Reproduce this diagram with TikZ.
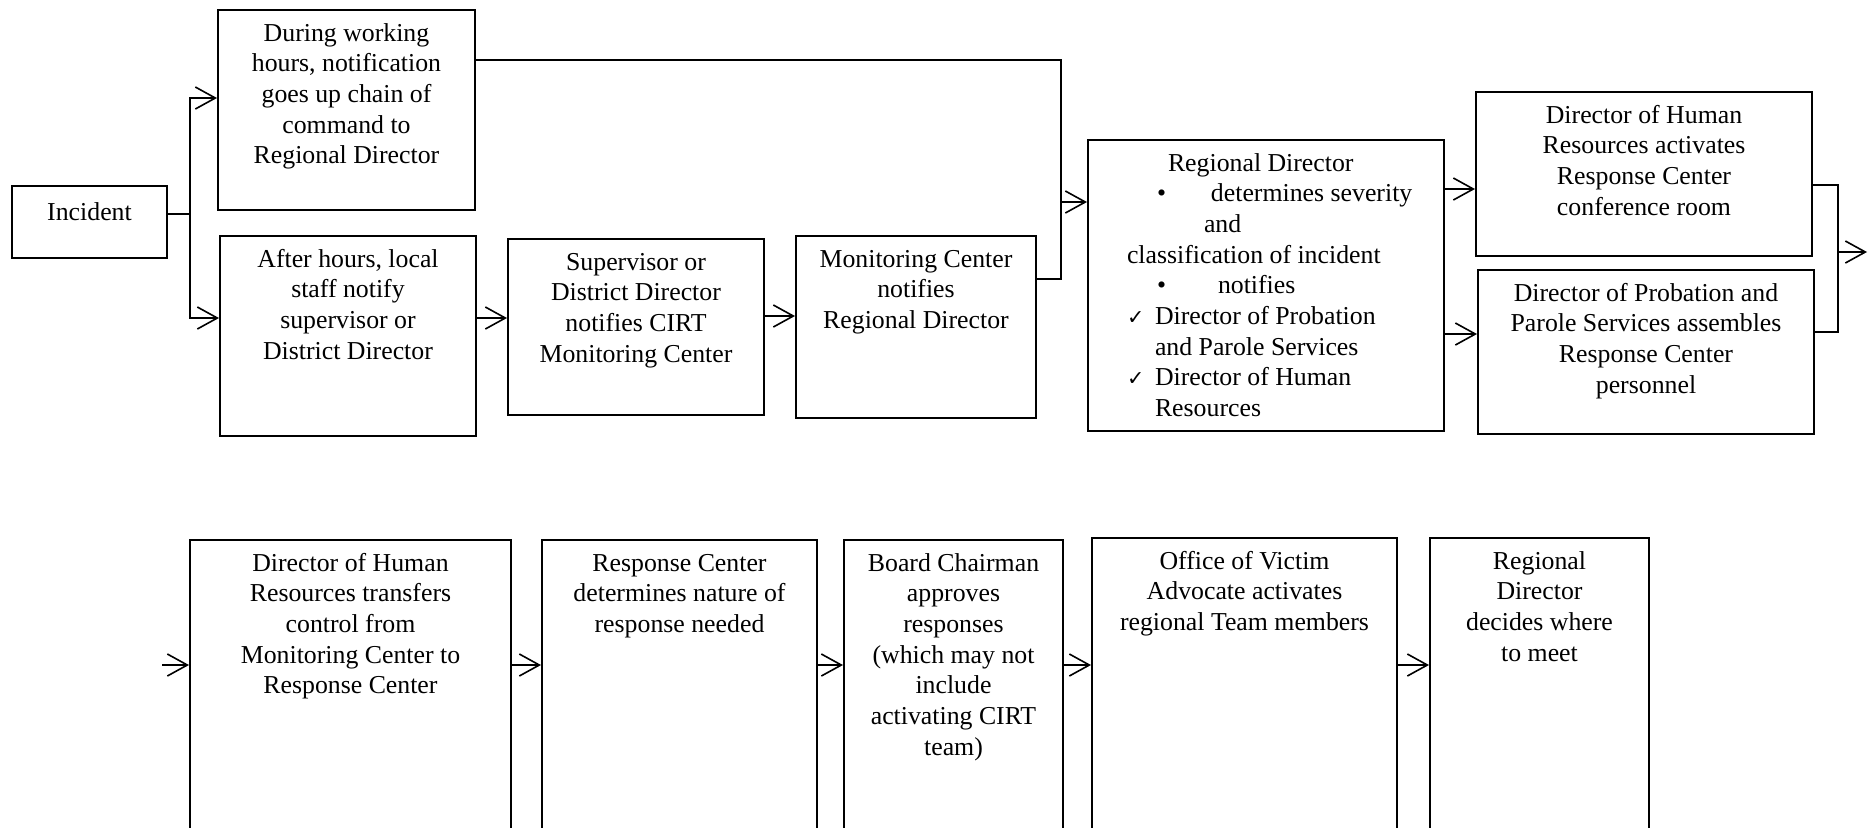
\documentclass[tikz,border=0pt]{standalone}
\usepackage{fontspec}
\setmainfont{Liberation Serif}
\newfontfamily\symfont[Scale=0.8]{DejaVu Sans}
\usetikzlibrary{arrows.meta}
\newcommand{\boxtxt}[3]{\parbox[c][#2][t]{#1}{\centering\rule{0pt}{15.5pt}#3}}

\begin{document}
\begin{tikzpicture}[x=0.5pt,y=-0.5pt,line width=0.8pt,
  every node/.style={font=\fontsize{12.9}{15.35}\selectfont},
  box/.style={draw,line width=1pt,inner sep=0pt,anchor=north west},
  arr/.style={-{Straight Barb[length=10pt,width=11pt]}}]
\useasboundingbox (0,0) rectangle (1873,827);
\node[box] (inc) at (11,185) {\boxtxt{77.5pt}{36pt}{\rule{0pt}{17pt}Incident}};
\node[box] (dur) at (217,9) {\boxtxt{128.5pt}{100pt}{During working\\hours, notification\\goes up chain of\\command to\\Regional Director}};
\node[box] (aft) at (219,235) {\boxtxt{128pt}{100pt}{After hours, local\\staff notify\\supervisor or\\District Director}};
\node[box] (sup) at (507,238) {\boxtxt{128pt}{88pt}{Supervisor or\\District Director\\notifies CIRT\\Monitoring Center}};
\node[box] (mon) at (795,235) {\boxtxt{120pt}{91pt}{Monitoring Center\\notifies\\Regional Director}};
\node[box] (rd) at (1087,139) {\boxtxt{178pt}{145.5pt}{\raggedright
  \hspace*{40pt}Regional Director\\
  \hspace*{34.5pt}\makebox[27pt][l]{\textbullet}determines severity\\
  \hspace*{58pt}and\\
  \hspace*{19.5pt}classification of incident\\
  \hspace*{34.5pt}\makebox[30.5pt][l]{\textbullet}notifies\\
  \hspace*{19.5pt}\makebox[14pt][l]{\symfont ✓}Director of Probation\\
  \hspace*{33.5pt}and Parole Services\\
  \hspace*{19.5pt}\makebox[14pt][l]{\symfont ✓}Director of Human\\
  \hspace*{33.5pt}Resources}};
\node[box] (hr) at (1475,91) {\boxtxt{168pt}{82pt}{Director of Human\\Resources activates\\Response Center\\conference room}};
\node[box] (prob) at (1477,269) {\boxtxt{168pt}{82pt}{Director of Probation and\\Parole Services assembles\\Response Center\\personnel}};
\node[box] (b1) at (189,539) {\boxtxt{160.5pt}{146.5pt}{Director of Human\\Resources transfers\\control from\\Monitoring Center to\\Response Center}};
\node[box] (b2) at (541,539) {\boxtxt{137.5pt}{146.5pt}{Response Center\\determines nature of\\response needed}};
\node[box] (b3) at (843,539) {\boxtxt{109.5pt}{146.5pt}{Board Chairman\\approves\\responses\\(which may not\\include\\activating CIRT\\team)}};
\node[box] (b4) at (1091,537) {\boxtxt{152.5pt}{147.5pt}{Office of Victim\\Advocate activates\\regional Team members}};
\node[box] (b5) at (1429,537) {\boxtxt{109.5pt}{147.5pt}{Regional\\Director\\decides where\\to meet}};
\coordinate (fk) at (190,214);
\draw (fk -| inc.east) -- (fk);
\draw[arr] (fk) |- ([yshift=6pt]dur.west);
\draw[arr] (fk) |- ([yshift=9pt]aft.west);
\draw[arr] ([yshift=9pt]aft.east) -- ([yshift=4.5pt]sup.west);
\draw[arr] ([yshift=5.5pt]sup.east) -- ([yshift=5.5pt]mon.west);
\coordinate (jn) at (1061,202);
\draw ([yshift=25pt]dur.east) -| (jn);
\draw ([yshift=24pt]mon.east) -| (jn);
\draw[arr] (jn) -- (jn -| rd.west);
\coordinate (hrin) at ([yshift=-7.5pt]hr.west);
\coordinate (pbin) at ([yshift=9pt]prob.west);
\draw[arr] (hrin -| rd.east) -- (hrin);
\draw[arr] (pbin -| rd.east) -- (pbin);
\coordinate (rj) at (1838,252);
\coordinate (out1) at (1867,252);
\draw ([yshift=-5.5pt]hr.east) -| (rj);
\draw ([yshift=10pt]prob.east) -| (rj);
\draw[arr] (rj) -- (out1);
\coordinate (in2) at (162,665);
\draw[arr] (in2) -- (in2 -| b1.west);
\foreach \a/\b in {b1/b2,b2/b3,b3/b4,b4/b5}
  \draw[arr] (in2 -| \a.east) -- (in2 -| \b.west);
\end{tikzpicture}
\end{document}
